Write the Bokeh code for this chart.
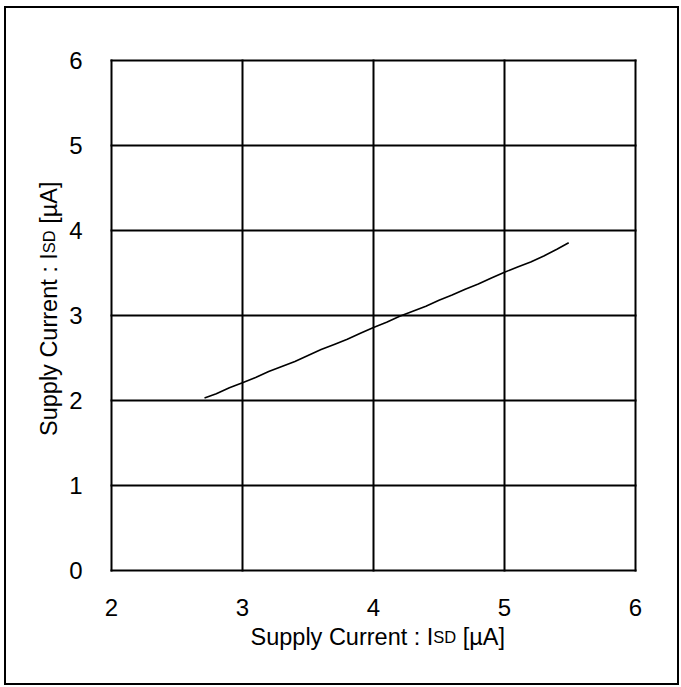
import numpy as np
from bokeh.plotting import figure
from bokeh.models import Range1d, Label, FixedTicker
from bokeh.embed import file_html
from bokeh.resources import INLINE

# ---- data ----
supply_x = [2.71, 2.8, 2.9, 3.0, 3.1, 3.2, 3.3, 3.4, 3.5, 3.6, 3.7, 3.8, 3.9, 4.0,
            4.1, 4.2, 4.3, 4.4, 4.5, 4.6, 4.7, 4.8, 4.9, 5.0, 5.1, 5.2, 5.3, 5.4, 5.49]
supply_y = [2.03, 2.08, 2.15, 2.21, 2.27, 2.34, 2.40, 2.46, 2.53, 2.60, 2.66, 2.72, 2.79, 2.86,
            2.92, 2.99, 3.05, 3.11, 3.18, 3.24, 3.31, 3.37, 3.44, 3.51, 3.57, 3.63, 3.70, 3.78, 3.855]
x_ticks = [2, 3, 4, 5, 6]
y_ticks = [0, 1, 2, 3, 4, 5, 6]
x_lo, x_hi = 2, 6
y_lo, y_hi = 0, 6
title_main = "Supply Current : I"
title_sub = "SD"
title_end = "[µA]"

FONT = "Liberation Sans"

# ---- layout (pixels) ----
W, H = 671, 675            # canvas size
box_l, box_r = 105, 629    # plot box, canvas px from left
box_t, box_b = 52, 562     # plot box, canvas px from top
pxu_x = (box_r - box_l) / (x_hi - x_lo)
pxu_y = (box_b - box_t) / (y_hi - y_lo)
xr = Range1d(x_lo - box_l / pxu_x, x_hi + (W - box_r) / pxu_x)
yr = Range1d(y_lo - (H - box_b) / pxu_y, y_hi + box_t / pxu_y)

p = figure(output_backend="svg", toolbar_location=None,
           frame_width=W, frame_height=H, min_border=0,
           x_range=xr, y_range=yr)
p.styles = {"border": "2px solid black", "margin-left": "4px", "margin-top": "6px"}
p.background_fill_color = "white"
p.border_fill_color = "white"
p.outline_line_color = None

p.xaxis[0].fixed_location = y_lo
p.yaxis[0].fixed_location = x_lo
for ax, tk in ((p.xaxis[0], x_ticks), (p.yaxis[0], y_ticks)):
    ax.ticker = FixedTicker(ticks=tk)
    ax.axis_line_color = None
    ax.major_tick_line_color = None
    ax.minor_tick_line_color = None
    ax.major_label_text_font = FONT
    ax.major_label_text_font_size = "24px"
    ax.major_label_text_color = "black"
p.xaxis[0].major_label_standoff = 22
p.yaxis[0].major_label_standoff = 23

# grid limited to the plot box, drawn at the tick values
p.xgrid.visible = False
p.ygrid.visible = False
p.segment(x0=x_ticks, y0=[y_lo] * len(x_ticks), x1=x_ticks, y1=[y_hi] * len(x_ticks),
          line_color="black", line_width=2, line_cap="square")
p.segment(x0=[x_lo] * len(y_ticks), y0=y_ticks, x1=[x_hi] * len(y_ticks), y1=y_ticks,
          line_color="black", line_width=2, line_cap="square")

p.line(supply_x, supply_y, line_color="black", line_width=1.6)

# axis titles composed of pieces (small-caps "SD")
big, small = 23.5, 16.5
widths = {title_main: 7.781 * big, title_sub: 1.389 * small + 0.278 * big, title_end: 0}

def add_title(x_off, y_off, angle, dx, dy):
    adv = 0.0
    for txt, size in ((title_main, big), (title_sub, small), (title_end, big)):
        p.add_layout(Label(x=x_lo, y=y_lo, x_units="data", y_units="data",
                           x_offset=x_off + adv * dx, y_offset=y_off + adv * dy,
                           text=txt, angle=angle,
                           text_font=FONT, text_font_size=f"{size}px",
                           text_color="black", text_align="left",
                           text_baseline="alphabetic"))
        adv += widths[txt]

add_title(139, -66, 0, 1, 0)            # x title
add_title(-63, 134.5, np.pi / 2, 0, 1)  # y title

open("out.html", "w").write(file_html(p, INLINE))
